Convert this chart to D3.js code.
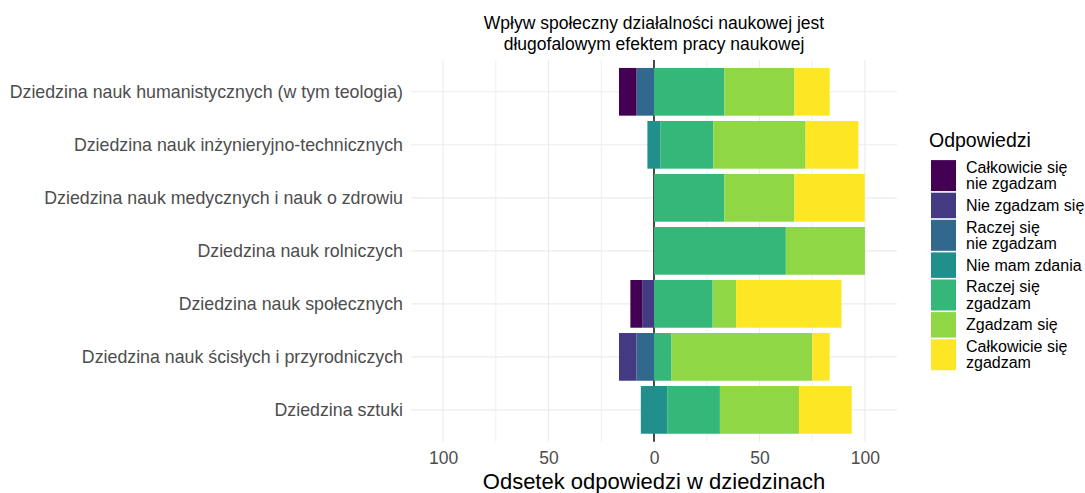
<!DOCTYPE html>
<html>
<head>
<meta charset="utf-8">
<script src="https://cdn.jsdelivr.net/npm/d3@7"></script>
<style>
  html, body { margin: 0; padding: 0; background: #fff; }
  svg { display: block; font-family: "Liberation Sans", Arial, Helvetica, sans-serif; }
</style>
</head>
<body>
<svg id="chart" width="1085" height="493"></svg>
<script>
// ---- Data ----
const categories = [
  "Dziedzina nauk humanistycznych (w tym teologia)",
  "Dziedzina nauk inżynieryjno-technicznych",
  "Dziedzina nauk medycznych i nauk o zdrowiu",
  "Dziedzina nauk rolniczych",
  "Dziedzina nauk społecznych",
  "Dziedzina nauk ścisłych i przyrodniczych",
  "Dziedzina sztuki"
];
const responses = [
  "Całkowicie się\nnie zgadzam",
  "Nie zgadzam się",
  "Raczej się\nnie zgadzam",
  "Nie mam zdania",
  "Raczej się\nzgadzam",
  "Zgadzam się",
  "Całkowicie się\nzgadzam"
];
const colors = ["#440154", "#443A83", "#31688E", "#21908C", "#35B779", "#8FD744", "#FDE725"];
// percentages per response, per category (same order as categories)
const calkowicieNie = [8.3, 0, 0, 0, 5.6, 0, 0];
const nieZgadzam    = [0, 0, 0, 0, 5.6, 8.3, 0];
const raczejNie     = [8.3, 0, 0, 0, 0, 8.3, 0];
const nieMamZdania  = [0, 6.25, 0, 0, 0, 0, 12.5];
const raczejTak     = [33.3, 25, 33.3, 62.5, 27.8, 8.3, 25];
const zgadzam       = [33.3, 43.75, 33.3, 37.5, 11.1, 66.7, 37.5];
const calkowicieTak = [16.7, 25, 33.3, 0, 50, 8.3, 25];
const xTicks = [-100, -50, 0, 50, 100];
const xMinorTicks = [-75, -25, 25, 75];
const titleLines = ["Wpływ społeczny działalności naukowej jest", "długofalowym efektem pracy naukowej"];
const xTitle = "Odsetek odpowiedzi w dziedzinach";
const legendTitle = "Odpowiedzi";

// ---- Layout ----
const svg = d3.select("#chart");
const panel = { left: 411, right: 897, top: 60, bottom: 441.7 };

const x = d3.scaleLinear().domain([-115.2, 115.2]).range([panel.left, panel.right]);
const n = categories.length;
const step = (panel.bottom - panel.top) / (n - 1 + 1.2);
const yCenter = d3.scalePoint().domain(categories).range([panel.top + 0.6 * step, panel.bottom - 0.6 * step]);
const barH = step * 0.9;

// grid
const g = svg.append("g");
g.selectAll("line.minor").data(xMinorTicks).join("line")
  .attr("x1", d => x(d)).attr("x2", d => x(d))
  .attr("y1", panel.top).attr("y2", panel.bottom)
  .attr("stroke", "#ebebeb").attr("stroke-width", 0.8);
g.selectAll("line.major").data(xTicks).join("line")
  .attr("x1", d => x(d)).attr("x2", d => x(d))
  .attr("y1", panel.top).attr("y2", panel.bottom)
  .attr("stroke", "#ebebeb").attr("stroke-width", 1.1);
g.selectAll("line.hy").data(categories).join("line")
  .attr("x1", panel.left).attr("x2", panel.right)
  .attr("y1", d => yCenter(d)).attr("y2", d => yCenter(d))
  .attr("stroke", "#ebebeb").attr("stroke-width", 1.1);

// zero line
g.append("line")
  .attr("x1", x(0)).attr("x2", x(0))
  .attr("y1", panel.top).attr("y2", panel.bottom)
  .attr("stroke", "#000").attr("stroke-width", 1.4);

// build stacked segments
const series = [calkowicieNie, nieZgadzam, raczejNie, nieMamZdania, raczejTak, zgadzam, calkowicieTak];
const segments = [];
categories.forEach((cat, i) => {
  const neutral = nieMamZdania[i];
  let pos = -neutral / 2;
  [2, 1, 0].forEach(k => {
    const v = series[k][i];
    if (v > 0) { segments.push({ cat, k, x0: pos - v, x1: pos }); }
    pos -= v;
  });
  if (neutral > 0) segments.push({ cat, k: 3, x0: -neutral / 2, x1: neutral / 2 });
  pos = neutral / 2;
  [4, 5, 6].forEach(k => {
    const v = series[k][i];
    if (v > 0) { segments.push({ cat, k, x0: pos, x1: pos + v }); }
    pos += v;
  });
});

svg.append("g").selectAll("rect").data(segments).join("rect")
  .attr("x", d => x(d.x0))
  .attr("width", d => x(d.x1) - x(d.x0))
  .attr("y", d => yCenter(d.cat) - barH / 2)
  .attr("height", barH)
  .attr("fill", d => colors[d.k]);

// y axis labels
const yAxis = d3.axisLeft(yCenter).tickSize(0).tickPadding(8);
const yg = svg.append("g").attr("transform", `translate(${panel.left},0)`).call(yAxis);
yg.select(".domain").remove();
yg.selectAll("text").attr("fill", "#4d4d4d").style("font-size", "17.8px")
  .style("font-family", "'Liberation Sans', Arial, sans-serif");

// x axis
const xAxis = d3.axisBottom(x).tickValues(xTicks).tickSize(0).tickPadding(10).tickFormat(d => Math.abs(d));
const xg = svg.append("g").attr("transform", `translate(0,${panel.bottom})`).call(xAxis);
xg.select(".domain").remove();
xg.selectAll("text").attr("fill", "#4d4d4d").style("font-size", "17.5px")
  .style("font-family", "'Liberation Sans', Arial, sans-serif");

// axis title
svg.append("text").attr("x", (panel.left + panel.right) / 2).attr("y", 489)
  .attr("text-anchor", "middle").style("font-size", "22px").attr("fill", "#000").text(xTitle);

// title
svg.append("g").selectAll("text").data(titleLines).join("text")
  .attr("x", (panel.left + panel.right) / 2)
  .attr("y", (d, i) => 29 + i * 20.5)
  .attr("text-anchor", "middle").style("font-size", "17.5px").attr("fill", "#000")
  .text(d => d);

// legend
const lg = svg.append("g");
lg.append("text").attr("x", 929).attr("y", 147).style("font-size", "19.5px").attr("fill", "#000").text(legendTitle);
let ly = 159.3;
responses.forEach((r, i) => {
  const lines = r.split("\n");
  const slot = lines.length > 1 ? 32.6 : 27.1;
  lg.append("rect").attr("x", 931).attr("y", ly + 0.8).attr("width", 25).attr("height", slot - 1.6)
    .attr("fill", colors[i]);
  const t = lg.append("text").attr("x", 966).style("font-size", "16px").attr("fill", "#000");
  const lh = 16.5;
  const firstY = ly + slot / 2 - (lines.length - 1) * lh / 2 + 5.5;
  lines.forEach((l, j) => {
    t.append("tspan").attr("x", 966).attr("y", firstY + j * lh).text(l);
  });
  ly += slot;
});
</script>
</body>
</html>
